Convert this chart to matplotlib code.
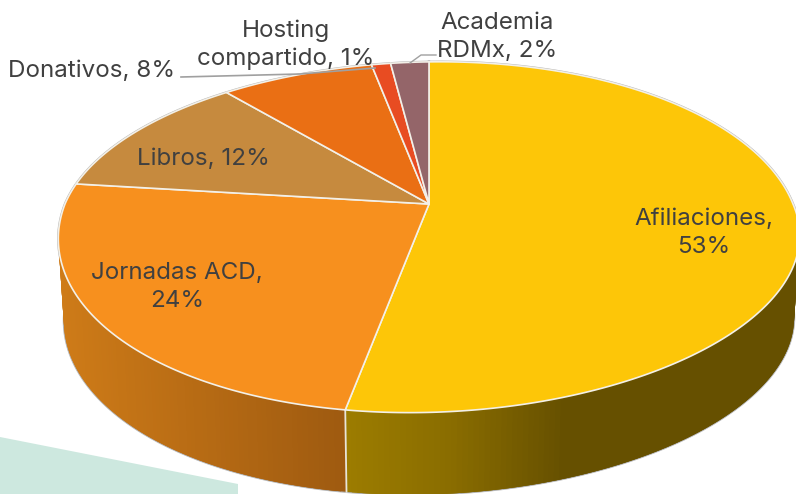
import numpy as np
import matplotlib
matplotlib.use("Agg")
import matplotlib.pyplot as plt
from matplotlib.colors import to_rgb

categories = ["Afiliaciones", "Jornadas ACD", "Libros", "Donativos", "Hosting\ncompartido", "Academia\nRDMx"]
values = [53, 24, 12, 8, 1, 2]
top_colors = ["#FDC608", "#F7901E", "#C68A3E", "#EA6F14", "#E84C22", "#946569"]
label_xy = [(704, 233), (177, 287), (203, 159), (92, 71), (286, 45), (497, 37)]
label_formats = ["{},\n{}%", "{},\n{}%", "{}, {}%", "{}, {}%", "{}, {}%", "{}, {}%"]

# gradient stops of the visible side wall: (pixel x, colour)
wall_stops = {
    0: [(347, "#9C7C00"), (450, "#8A6D00"), (565, "#665000"), (796, "#665000")],
    1: [(60, "#CE7B18"), (347, "#9E5A10")],
}
wall_plain = ["#665000", "#C07416", "#8A6330", "#A34E0E", "#A23518", "#674648"]

CX, CY = 429, 204
A, B, K = 364, 169, 0.189
TILT_LOW, TILT_HIGH = 9, 5
DROP, NARROW = 82, 0.985
INK = "#404040"

plt.rcParams["font.family"] = ["Inter", "DejaVu Sans"]
fig = plt.figure(figsize=(7.96, 4.94), dpi=100)
ax = fig.add_axes([0, 0, 1, 1])
ax.set_xlim(0, 796)
ax.set_ylim(494, 0)
ax.axis("off")


def rim(frac, lower=False):
    th = 2 * np.pi * np.asarray(frac)
    X, Y = np.sin(th), np.cos(th)
    d = 1 + K * Y
    u = A * X / d
    v = (B * Y + TILT_LOW * X * np.maximum(-Y, 0) + TILT_HIGH * X * np.maximum(Y, 0)) / d
    if lower:
        return CX + NARROW * u, CY - v + DROP
    return CX + u, CY - v


def wall_colour(i, x):
    if i in wall_stops:
        xs, cs = zip(*wall_stops[i])
        rgb = np.array([to_rgb(c) for c in cs])
        return tuple(np.interp(x, xs, rgb[:, k]) for k in range(3))
    return wall_plain[i]


ax.fill([0, 238, 238, 0], [437, 484, 494, 494], color="#CDE8DF", lw=0, zorder=1)

shares = np.array(values) / sum(values)
edges = np.concatenate([[0], np.cumsum(shares)])

# outer silhouette shadow
t_all = np.linspace(0, 1, 721)
ax.plot(*rim(t_all), color="#B4B4B4", lw=1.8, zorder=2)
t_front = np.linspace(0.25, 0.76, 300)
ax.plot(*rim(t_front, True), color="#B4B4B4", lw=1.6, zorder=2)

# side wall, drawn as overlapping strips coloured along x
for i in range(len(values)):
    n = max(int(shares[i] * 500), 3)
    ts = np.linspace(edges[i], edges[i + 1], n + 1)
    # painted from the far end so each strip overlaps the previous one
    order = range(n - 1, -1, -1) if i == 0 else range(n)
    for j in order:
        lo = ts[max(j - 2, 0)] if i == 0 else ts[j]
        hi = ts[j + 1] if i == 0 else ts[min(j + 3, n)]
        xu, yu = rim([lo, hi])
        xl, yl = rim([hi, lo], True)
        col = wall_colour(i, (rim(ts[j])[0] + rim(ts[j + 1])[0]) / 2)
        ax.fill(np.r_[xu, xl], np.r_[yu, yl], color=col, lw=0, zorder=3)

# separator on the wall between the two front slices
x0, y0 = rim(edges[1])
x1, y1 = rim(edges[1], True)
ax.plot([x0, x1], [y0, y1], color="#E8E4D8", lw=1.3, zorder=4)

# top face
for i in range(len(values)):
    n = max(int(shares[i] * 700), 4)
    xr, yr = rim(np.linspace(edges[i], edges[i + 1], n + 1))
    ax.fill(np.r_[CX, xr], np.r_[CY, yr], facecolor=top_colors[i],
            edgecolor="#F3F0E8", lw=1.2, joinstyle="round", zorder=5)

# leader lines
ax.plot([181, 300, 375], [77, 74, 68], color="#A0A0A0", lw=1.2, zorder=6)
ax.plot([436, 421, 410], [55, 55, 63], color="#A0A0A0", lw=1.0, zorder=6)

for cat, val, (x, y), fmt in zip(categories, values, label_xy, label_formats):
    ax.text(x, y, fmt.format(cat, val), ha="center", va="center", fontsize=17.4,
            color=INK, linespacing=1.3, zorder=7)

fig.savefig("out.png", dpi=100)
